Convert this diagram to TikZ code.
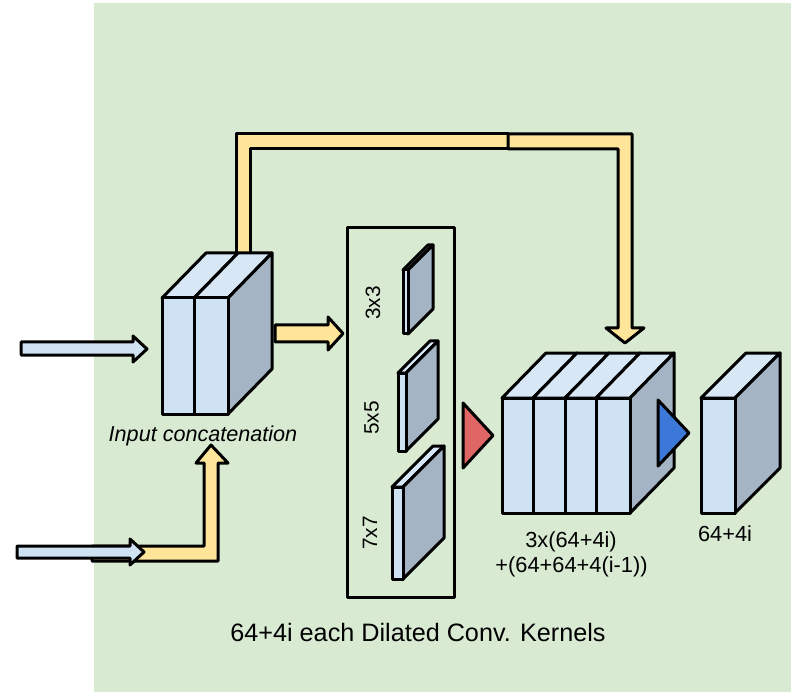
\documentclass[tikz,border=0pt]{standalone}
\usepackage{fontspec}
\setmainfont{Liberation Sans}
\definecolor{bggreen}{RGB}{217,234,211}
\definecolor{frontblue}{RGB}{207,226,243}
\definecolor{topblue}{RGB}{216,231,246}
\definecolor{sidegray}{RGB}{165,180,196}
\definecolor{flowyellow}{RGB}{255,229,153}
\definecolor{trired}{RGB}{224,102,102}
\definecolor{triblue}{RGB}{60,120,216}
\tikzset{
  outline/.style={draw=black,line width=3pt,line join=round},
  frontface/.style={outline,fill=frontblue},
  topface/.style={outline,fill=topblue},
  sideface/.style={outline,fill=sidegray},
  yarrow/.style={outline,fill=flowyellow},
  barrow/.style={outline,fill=frontblue},
  lbl/.style={font=\fontsize{21.8}{25}\selectfont,inner sep=0pt,anchor=base},
  klbl/.style={font=\fontsize{20.8}{24}\selectfont,inner sep=0pt,rotate=90}
}
% a block of parallel slabs: x-pairs, last x, top, bottom, depth dx, depth dy
\newcommand\drawslabs[6]{%
  \foreach \a/\b in {#1}{
    \filldraw[topface] (\a,#3) -- (\b,#3) -- (\b+#5,#3-#6) -- (\a+#5,#3-#6) -- cycle;
  }
  \filldraw[sideface] (#2,#3) -- (#2+#5,#3-#6) -- (#2+#5,#4-#6) -- (#2,#4) -- cycle;
  \foreach \a/\b in {#1}{
    \filldraw[frontface] (\a,#3) rectangle (\b,#4);
  }
}
\begin{document}
\begin{tikzpicture}[x=1pt,y=-1pt]
\useasboundingbox (0,0) rectangle (792,692);
\fill[bggreen] (94,3) rectangle (791,692);

% anchor points of the blocks
\coordinate (incat) at (195,356);
\coordinate (kbox) at (400,412);
\coordinate (stack) at (566,455);
\coordinate (outblk) at (718,455);

% skip path over the top: from the concatenation block to the stack
\filldraw[yarrow] (236,262) -- (236,134) -- (508,134) -- (508,149) -- (250,149) -- (250,262) -- cycle;
\filldraw[yarrow] (508,134) -- (632,134) -- (632,328) -- (644,328) -- (625,343)
  -- (606,328) -- (618,328) -- (618,149) -- (508,149) -- cycle;

% input concatenation block
\drawslabs{162/194,194/228}{228}{298}{414}{44}{45}
\node[lbl,font=\fontsize{21.6}{25}\selectfont\itshape] (inlbl) at (203,441) {Input concatenation};

% second input, routed up into the block
\filldraw[yarrow] (92,561) -- (218,561) -- (218,463) -- (228,463) -- (211,445)
  -- (196,463) -- (204,463) -- (204,546) -- (92,546) -- cycle;

% input arrows
\filldraw[barrow] (21,342) -- (133,342) -- (133,336) -- (147,349) -- (133,362) -- (133,355) -- (21,355) -- cycle;
\filldraw[barrow] (17,546) -- (130,546) -- (130,539) -- (144,552) -- (130,565) -- (130,558) -- (17,558) -- cycle;

% concatenation -> dilated kernels
\filldraw[yarrow] (275,325) -- (328,325) -- (328,317) -- (343,333.5) -- (328,350) -- (328,342) -- (275,342) -- cycle;

% dilated convolution kernels
\draw[outline] (347,228) rectangle (454,597);
\drawslabs{403/408}{408}{270}{334}{25}{25}
\drawslabs{398/406}{406}{373}{451}{32}{32}
\drawslabs{392/403}{403}{487}{579}{41}{41}
\node[klbl] (k3) at (373,303) {3x3};
\node[klbl] (k5) at (371.5,418) {5x5};
\node[klbl] (k7) at (370,533) {7x7};
\node[lbl,font=\fontsize{25.2}{29}\selectfont] (kcap) at (418,641) {64+4i each Dilated Conv. Kernels};

% concatenation of the kernel outputs
\filldraw[outline,fill=trired] (463,403) -- (493,435.5) -- (463,468) -- cycle;
\drawslabs{502/533,533/565,565/596,596/630}{630}{398}{513}{44}{45}
\node[lbl] (s1) at (571,547) {3x(64+4i)};
\node[lbl] (s2) at (571.5,572) {+(64+64+4(i-1))};

% 1x1 reduction to the output block
\filldraw[outline,fill=triblue] (658,400) -- (689,433) -- (658,466) -- cycle;
\drawslabs{701/735}{735}{398}{513}{45}{45}
\node[lbl] (olbl) at (725,541) {64+4i};
\end{tikzpicture}
\end{document}
